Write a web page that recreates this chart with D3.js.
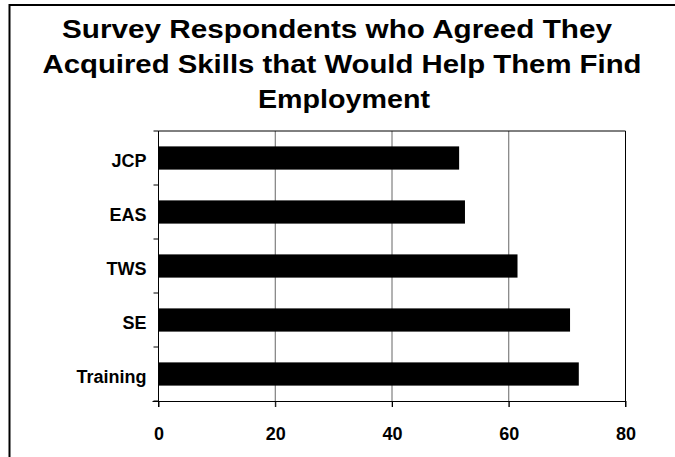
<!DOCTYPE html>
<html>
<head>
<meta charset="utf-8">
<script src="https://cdn.jsdelivr.net/npm/d3@7"></script>
<style>
  html, body { margin: 0; padding: 0; background: #fff; }
  svg { display: block; }
  text { font-family: "Liberation Sans", Arial, sans-serif; font-weight: bold; fill: #000; }
</style>
</head>
<body>
<svg id="chart" width="675" height="457"></svg>
<script>
const titleLines = ["Survey Respondents who Agreed They", "Acquired Skills that Would Help Them Find", "Employment"];
const categories = ["JCP", "EAS", "TWS", "SE", "Training"];
const values = [51.5, 52.5, 61.5, 70.5, 72];
const xTicks = [0, 20, 40, 60, 80];

const svg = d3.select("#chart");

// outer frame
svg.append("rect").attr("x", 9.5).attr("y", 5).attr("width", 700).attr("height", 500)
  .attr("fill", "none").attr("stroke", "#000").attr("stroke-width", 2);

// title
const titleLens = [550, 599, 172];
const titleBase = [37.5, 72.7, 108];
const titleX = [337, 342, 344];
svg.append("g").selectAll("text").data(titleLines).join("text")
  .attr("x", (d, i) => titleX[i]).attr("y", (d, i) => titleBase[i])
  .attr("text-anchor", "middle").attr("font-size", 26)
  .attr("textLength", (d, i) => titleLens[i]).attr("lengthAdjust", "spacingAndGlyphs")
  .text(d => d);

const pLeft = 158.5, pRight = 625.5, pTop = 131, pBottom = 401;
const x = d3.scaleLinear().domain([0, 80]).range([pLeft, pRight]);
const y = d3.scaleBand().domain(categories).range([pTop, pBottom]).paddingInner(0.57).paddingOuter(0.285);

// gridlines (including extension below as ticks)
svg.append("g").selectAll("line").data(xTicks.filter(t => t > 0 && t < 80)).join("line")
  .attr("x1", d => x(d)).attr("x2", d => x(d)).attr("y1", pTop).attr("y2", pBottom + 6)
  .attr("stroke", "#666").attr("stroke-width", 1);

// bars
svg.append("g").selectAll("rect").data(categories).join("rect")
  .attr("x", x(0)).attr("y", d => y(d))
  .attr("width", (d, i) => x(values[i]) - x(0)).attr("height", y.bandwidth())
  .attr("fill", "#000");

// plot frame top and right
svg.append("line").attr("x1", pLeft).attr("x2", pRight).attr("y1", pTop).attr("y2", pTop)
  .attr("stroke", "#000").attr("stroke-width", 1);
svg.append("line").attr("x1", pRight).attr("x2", pRight).attr("y1", pTop).attr("y2", pBottom + 6)
  .attr("stroke", "#000").attr("stroke-width", 1);

// x axis
const xAxis = d3.axisBottom(x).tickValues(xTicks).tickSize(6).tickPadding(0).tickFormat(d3.format("d"));
const gx = svg.append("g").attr("transform", `translate(0,${pBottom})`).call(xAxis);
gx.select(".domain").attr("d", `M${pLeft - 6},0.5H${pRight}`).attr("stroke", "#000");
gx.selectAll(".tick line").attr("stroke", "#000");
gx.selectAll(".tick text").attr("font-size", 18).attr("font-family", "Liberation Sans, Arial, sans-serif")
  .attr("font-weight", "bold").attr("fill", "#000").attr("dy", 0).attr("y", 38.5);

// y axis
const gy = svg.append("g").attr("transform", `translate(${pLeft},0)`);
gy.append("line").attr("x1", 0).attr("x2", 0).attr("y1", pTop).attr("y2", pBottom + 6).attr("stroke", "#000");
const step = (pBottom - pTop) / categories.length;
const bounds = d3.range(categories.length + 1).map(i => pTop + i * step);
gy.selectAll("line.tk").data(bounds).join("line").attr("class", "tk")
  .attr("x1", -5).attr("x2", 0).attr("y1", d => d).attr("y2", d => d).attr("stroke", "#000");
gy.selectAll("text").data(categories).join("text")
  .attr("x", -12).attr("y", d => y(d) + y.bandwidth() / 2 + 9)
  .attr("text-anchor", "end").attr("font-size", 18).text(d => d);
</script>
</body>
</html>
